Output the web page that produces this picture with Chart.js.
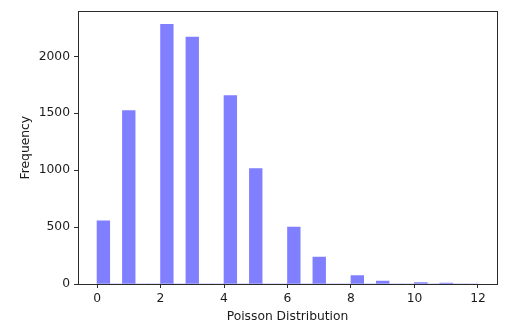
<!DOCTYPE html>
<html>
<head>
<meta charset="utf-8">
<script src="https://cdn.jsdelivr.net/npm/chart.js@4"></script>
<style>
  html, body { margin: 0; padding: 0; background: #fff; }
  #wrap { width: 530px; height: 334px; }
</style>
</head>
<body>
<div id="wrap"><canvas id="histChart" width="530" height="334"></canvas></div>
<script>
// histogram of 10000 poisson samples, 30 bins over [0, 12]
const binStart = 0;
const binEnd = 12;
const binCount = 30;
const counts = [
  555, 0, 1523, 0, 0, 2281, 0, 2170, 0, 0,
  1655, 0, 1015, 0, 0, 500, 0, 237, 0, 0,
  73, 0, 26, 0, 0, 12, 0, 8, 0, 0
];
const xTicks = [0, 2, 4, 6, 8, 10, 12];
const yTicks = [0, 500, 1000, 1500, 2000];

const binWidth = (binEnd - binStart) / binCount;
// bars sit on bin centres so the library's ruler gives them one full bin of width
const histData = counts.map((c, i) => ({ x: binStart + binWidth * (i + 0.5), y: c }));

const axisColor = '#2b2b2b';
const textColor = '#1a1a1a';
const tickFont = { family: 'DejaVu Sans', size: 12.3 };

// draw the full box around the plot like the other two spines
const boxPlugin = {
  id: 'box',
  afterDraw(chart) {
    const a = chart.chartArea;
    const ctx = chart.ctx;
    ctx.save();
    ctx.strokeStyle = axisColor;
    ctx.lineWidth = 1;
    ctx.strokeRect(Math.round(a.left) + 0.5, Math.round(a.top) + 0.5,
      Math.round(a.right - a.left), Math.round(a.bottom - a.top));
    ctx.restore();
  }
};

const maxCount = Math.max(...counts);

new Chart(document.getElementById('histChart').getContext('2d'), {
  type: 'bar',
  data: {
    datasets: [{
      label: 'Poisson',
      data: histData,
      backgroundColor: 'rgba(0, 0, 255, 0.5)',
      borderWidth: 0,
      barPercentage: 1,
      categoryPercentage: 1
    }]
  },
  options: {
    responsive: false,
    animation: false,
    layout: { padding: { top: 11, right: 33, left: 0, bottom: 0 } },
    plugins: {
      legend: { display: false },
      tooltip: { enabled: false }
    },
    scales: {
      x: {
        type: 'linear',
        offset: false,
        min: binStart - (binEnd - binStart) * 0.05,
        max: binEnd + (binEnd - binStart) * 0.05,
        afterBuildTicks: (scale) => { scale.ticks = xTicks.map(v => ({ value: v })); },
        afterFit: (scale) => { scale.height = 50; },
        grid: { display: true, offset: false, drawOnChartArea: false, drawTicks: true, tickLength: 4, color: axisColor },
        border: { display: true, color: axisColor },
        ticks: { color: textColor, font: tickFont, padding: 3, maxRotation: 0 },
        title: { display: true, text: 'Poisson Distribution', color: textColor, font: tickFont, padding: { top: 2, bottom: 10 } }
      },
      y: {
        min: 0,
        max: maxCount * 1.05,
        afterBuildTicks: (scale) => { scale.ticks = yTicks.map(v => ({ value: v })); },
        afterFit: (scale) => { scale.width = 78; },
        grid: { display: true, drawOnChartArea: false, drawTicks: true, tickLength: 4, color: axisColor },
        border: { display: true, color: axisColor },
        ticks: { color: textColor, font: tickFont, padding: 4, callback: (v) => String(v) },
        title: { display: true, text: 'Frequency', color: textColor, font: tickFont, padding: { top: 18, bottom: 4 } }
      }
    }
  },
  plugins: [boxPlugin]
});
</script>
</body>
</html>
